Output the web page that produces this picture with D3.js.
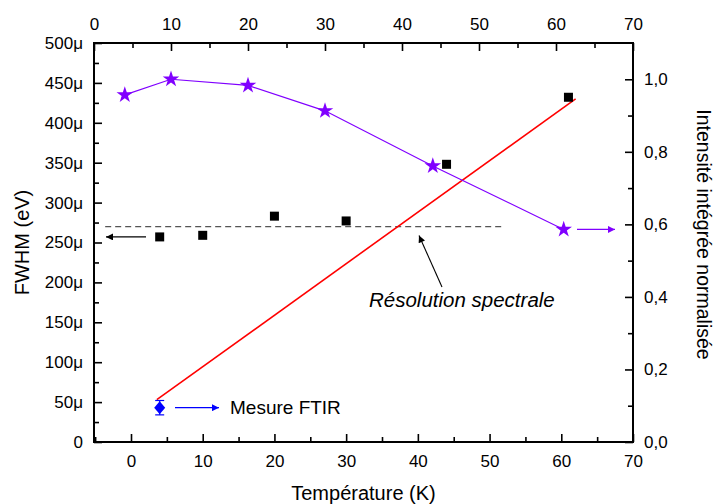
<!DOCTYPE html>
<html><head><meta charset="utf-8">
<script src="https://cdn.jsdelivr.net/npm/d3@7"></script>
<style>body{margin:0;background:#fff}svg{display:block;font-family:"Liberation Sans",Arial,sans-serif}</style>
</head><body>
<svg id="c" width="714" height="504"></svg>
<script>
// Data
const temperatures = [4, 10, 20, 30, 44, 61];           // K
const fwhm = [257, 259, 283, 277, 348, 432];            // μeV (left axis)
const intensity = [0.957, 1.0, 0.983, 0.913, 0.761, 0.586]; // normalised (right axis, top T axis)
const fitLineT = [3.6, 62];                             // red line ends (K)
const fitLineFwhm = [53, 430];                          // μeV
const resolution = 270;                                 // μeV (dashed)
const resolutionT = [-3.6, 51.7];
const ftirT = [4];
const ftirFwhm = [43];
const ftirErr = [9];
const bottomTicks = [0, 10, 20, 30, 40, 50, 60, 70];
const topTicks = [0, 10, 20, 30, 40, 50, 60, 70];
const leftTicks = [0, 50, 100, 150, 200, 250, 300, 350, 400, 450, 500];
const rightTicks = [0, 0.2, 0.4, 0.6, 0.8, 1.0];

const L = 94, R = 633, T = 43, B = 442;
const svg = d3.select("#c");
const xB = d3.scaleLinear().domain([-5.16, 70]).range([L, R]);
const xT = d3.scaleLinear().domain([0, 70]).range([L, R]);
const yL = d3.scaleLinear().domain([0, 500]).range([B, T]);
const yR = d3.scaleLinear().domain([0, 1.1]).range([B, T]);

const fs = 17;
function styleAxis(g){
  g.select(".domain").remove();
  g.selectAll(".tick line").attr("stroke","#000").attr("stroke-width",1.6);
  g.selectAll(".tick text").attr("font-size",fs).attr("fill","#000").attr("font-family","Liberation Sans, Arial, sans-serif");
}
// minor ticks
const minorB = d3.range(-5, 71, 5).filter(v => v % 10 !== 0);
const minorT = d3.range(5, 70, 10);
const minorL = d3.range(25, 500, 50);
const minorR = d3.range(0.1, 1.1, 0.2);

svg.append("g").attr("transform",`translate(0,${B})`)
  .call(d3.axisBottom(xB).tickValues(bottomTicks).tickSize(-8).tickPadding(19).tickFormat(d3.format("d"))).call(styleAxis)
  .call(g=>g.selectAll(".tick text").attr("dy","0.35em"));
svg.append("g").attr("transform",`translate(0,${B})`)
  .call(d3.axisBottom(xB).tickValues(minorB).tickSize(-5).tickFormat("")).call(styleAxis);
svg.append("g").attr("transform",`translate(0,${T})`)
  .call(d3.axisTop(xT).tickValues(topTicks).tickSize(-8).tickPadding(13).tickFormat(d3.format("d"))).call(styleAxis);
svg.append("g").attr("transform",`translate(0,${T})`)
  .call(d3.axisTop(xT).tickValues(minorT).tickSize(-5).tickFormat("")).call(styleAxis);
svg.append("g").attr("transform",`translate(${L},0)`)
  .call(d3.axisLeft(yL).tickValues(leftTicks).tickSize(-8).tickPadding(11).tickFormat(d => d === 0 ? "0" : d + "μ")).call(styleAxis);
svg.append("g").attr("transform",`translate(${L},0)`)
  .call(d3.axisLeft(yL).tickValues(minorL).tickSize(-5).tickFormat("")).call(styleAxis);
svg.append("g").attr("transform",`translate(${R},0)`)
  .call(d3.axisRight(yR).tickValues(rightTicks).tickSize(-8).tickPadding(11).tickFormat(d => d3.format(".1f")(d).replace(".", ","))).call(styleAxis);
svg.append("g").attr("transform",`translate(${R},0)`)
  .call(d3.axisRight(yR).tickValues(minorR).tickSize(-5).tickFormat("")).call(styleAxis);

// frame
svg.append("rect").attr("x",L).attr("y",T).attr("width",R-L).attr("height",B-T)
  .attr("fill","none").attr("stroke","#000").attr("stroke-width",2);

// axis titles
svg.append("text").attr("x",(L+R)/2).attr("y",500).attr("text-anchor","middle").attr("font-size",20).text("Température (K)");
svg.append("text").attr("transform",`translate(29,${(T+B)/2}) rotate(-90)`).attr("text-anchor","middle").attr("font-size",20).text("FWHM (eV)");
svg.append("text").attr("transform",`translate(697,${(T+B)/2 - 8}) rotate(90)`).attr("text-anchor","middle").attr("font-size",19.5).text("Intensité intégrée normalisée");

// arrow markers
const defs = svg.append("defs");
function marker(id, color){
  defs.append("marker").attr("id",id).attr("viewBox","0 0 10 10").attr("refX",10).attr("refY",5)
    .attr("markerWidth",10).attr("markerHeight",7).attr("markerUnits","userSpaceOnUse").attr("orient","auto")
    .append("path").attr("d","M0,0L10,5L0,10Z").attr("fill",color);
}
marker("ak","#000"); marker("ap","#8000ff"); marker("ab","#0000ff");

// dashed resolution line
svg.append("line").attr("x1",xB(resolutionT[0])).attr("x2",xB(resolutionT[1]))
  .attr("y1",yL(resolution)).attr("y2",yL(resolution))
  .attr("stroke","#555").attr("stroke-width",1.2).attr("stroke-dasharray","6,4");

// red fit line
svg.append("line").attr("x1",xB(fitLineT[0])).attr("y1",yL(fitLineFwhm[0]))
  .attr("x2",xB(fitLineT[1])).attr("y2",yL(fitLineFwhm[1]))
  .attr("stroke","#ff0000").attr("stroke-width",1.6);

// purple intensity line + stars
const starPts = temperatures.map((t,i)=>[xT(t), yR(intensity[i])]);
svg.append("path").attr("d", d3.line()(starPts)).attr("fill","none").attr("stroke","#8000ff").attr("stroke-width",1.2);
const star = d3.symbol().type(d3.symbolStar).size(85);
svg.selectAll(".star").data(starPts).join("path").attr("class","star")
  .attr("transform",d=>`translate(${d[0]},${d[1]})`).attr("d",star).attr("fill","#8000ff");

// black squares
const sq = 9;
svg.selectAll(".sq").data(temperatures).join("rect").attr("class","sq")
  .attr("x",(d)=>xB(d)-sq/2).attr("y",(d,i)=>yL(fwhm[i])-sq/2).attr("width",sq).attr("height",sq).attr("fill","#000");

// FTIR point with error bar
ftirT.forEach((t,i)=>{
  const cx = xB(t), cy = yL(ftirFwhm[i]);
  const y1 = yL(ftirFwhm[i]+ftirErr[i]), y2 = yL(ftirFwhm[i]-ftirErr[i]);
  svg.append("line").attr("x1",cx).attr("x2",cx).attr("y1",y1).attr("y2",y2).attr("stroke","#0000ff").attr("stroke-width",1.2);
  [y1,y2].forEach(y=>svg.append("line").attr("x1",cx-4.5).attr("x2",cx+4.5).attr("y1",y).attr("y2",y).attr("stroke","#0000ff").attr("stroke-width",1.2));
  svg.append("path").attr("transform",`translate(${cx},${cy})`).attr("d","M0,-6.5L5.5,0L0,6.5L-5.5,0Z").attr("fill","#0000ff");
});

// annotations
svg.append("line").attr("x1",146).attr("y1",yL(fwhm[0])).attr("x2",106).attr("y2",yL(fwhm[0]))
  .attr("stroke","#000").attr("stroke-width",1.2).attr("marker-end","url(#ak)");
svg.append("line").attr("x1",577).attr("y1",starPts[5][1]).attr("x2",615).attr("y2",starPts[5][1])
  .attr("stroke","#8000ff").attr("stroke-width",1.2).attr("marker-end","url(#ap)");
svg.append("line").attr("x1",175).attr("y1",yL(ftirFwhm[0])).attr("x2",219).attr("y2",yL(ftirFwhm[0]))
  .attr("stroke","#0000ff").attr("stroke-width",1.2).attr("marker-end","url(#ab)");
svg.append("text").attr("x",230).attr("y",yL(ftirFwhm[0])+6.5).attr("font-size",19).text("Mesure FTIR");
svg.append("line").attr("x1",442).attr("y1",287).attr("x2",419).attr("y2",235.5)
  .attr("stroke","#000").attr("stroke-width",1.1).attr("marker-end","url(#ak)");
svg.append("text").attr("x",369).attr("y",307).attr("font-size",20.5).attr("font-style","italic").text("Résolution spectrale");
</script>
</body></html>
